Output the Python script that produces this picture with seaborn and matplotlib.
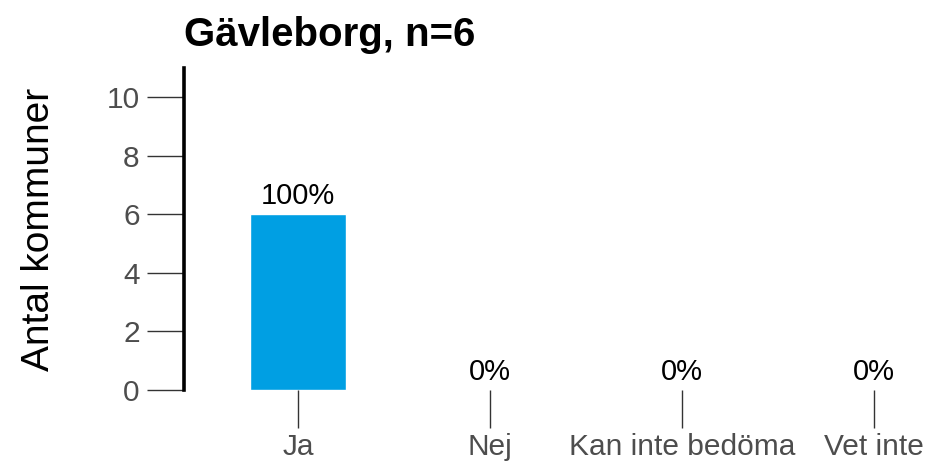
import matplotlib
matplotlib.use("Agg")
import matplotlib.pyplot as plt
import pandas as pd
import seaborn as sns

# Data
region = "Gävleborg"
kategorier = ["Ja", "Nej", "Kan inte bedöma", "Vet inte"]
antal = [6, 0, 0, 0]

n = sum(antal)
andelar = [f"{round(100 * a / n)}%" for a in antal]

sns.set_theme(style="white")
plt.rcParams["font.family"] = ["Liberation Sans", "DejaVu Sans"]

df = pd.DataFrame({"kategori": kategorier, "antal": antal})

fig = plt.figure(figsize=(9.3, 4.65), dpi=100)
ax = fig.add_axes([0.198, 0.1613, 0.802, 0.6925])

sns.barplot(data=df, x="kategori", y="antal", color="#009FE3",
            width=0.5, saturation=1, ax=ax)

ax.bar_label(ax.containers[0], labels=andelar, padding=3,
             fontsize=21, color="black")

ax.set_xlim(-0.594, 3.29)
ax.set_ylim(0, 11)
ax.set_yticks([0, 2, 4, 6, 8, 10])

for side in ["top", "right", "bottom"]:
    ax.spines[side].set_visible(False)
ax.spines["left"].set_linewidth(2.6)
ax.spines["left"].set_color("black")

ax.tick_params(axis="both", which="major", length=27, width=1.0,
               color="#333333", labelcolor="#4D4D4D", labelsize=21.5, pad=5)
ax.tick_params(axis="x", bottom=True, pad=4)
ax.tick_params(axis="y", left=True)

ax.set_xlabel("")
ax.set_ylabel("Antal kommuner", fontsize=28, color="black", labelpad=36)
ax.set_title(f"{region}, n={n}", loc="left", fontsize=29,
             fontweight="bold", color="black", pad=16)

fig.savefig("out.png", dpi=100)
